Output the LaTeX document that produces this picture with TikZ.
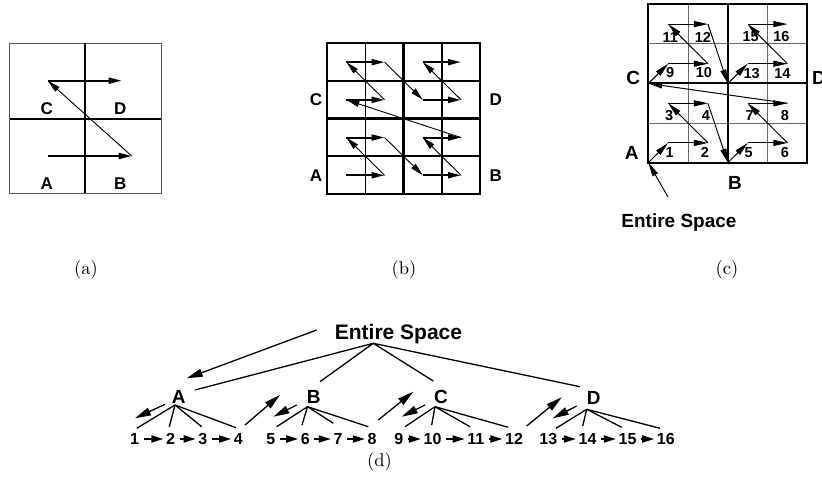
\documentclass[tikz,border=0pt]{standalone}
\usepackage{fontspec}
\newfontfamily\lsans{Liberation Sans}
\usetikzlibrary{arrows.meta}
\begin{document}
\begin{tikzpicture}[x=1pt,y=-1pt,
  lab/.style={font=\lsans\bfseries\fontsize{17}{17}\selectfont, inner sep=0pt},
  dlab/.style={font=\lsans\bfseries\fontsize{19}{19}\selectfont, inner sep=0pt},
  cnum/.style={font=\lsans\bfseries\fontsize{14.5}{14.5}\selectfont, inner sep=0pt},
  dnum/.style={font=\lsans\bfseries\fontsize{16}{16}\selectfont, inner sep=0pt},
  captxt/.style={font=\fontsize{10}{12}\selectfont, inner sep=0pt, scale=1.85},
  thk/.style={line width=2pt, -{Triangle[length=13pt,width=6pt]}},
  thn/.style={line width=0.9pt, -{Triangle[length=13pt,width=6pt]}},
  cthin/.style={line width=1pt, -{Triangle[length=14pt,width=6pt]}},
  tline/.style={line width=1.3pt},
  tarr/.style={line width=1.3pt, -{Triangle[length=16pt,width=8pt]}},
  rowarr/.style={line width=1.8pt, -{Triangle[length=12pt,width=7pt]}, shorten <=4.5pt, shorten >=2.5pt}]
\useasboundingbox (0,0) rectangle (822,486);

% ---------- (a) one level of Z-order ----------
\draw[black!65, line width=0.8pt] (9.5,43.3) rectangle (161,193.5);
\draw[line width=2pt] (85.3,43.3) -- (85.3,193.5) (9.5,119) -- (161,119);
\node[lab] (aLC) at (46.7,109) {C};
\node[lab] (aLD) at (120.3,109) {D};
\node[lab] (aLA) at (46.7,184) {A};
\node[lab] (aLB) at (120.3,184) {B};
\coordinate (aA) at (47.7,156);
\coordinate (aB) at (131.7,156);
\coordinate (aC) at (47.7,80.7);
\coordinate (aD) at (121.7,80.7);
\draw[thk] (aA) -- (aB);
\draw[thn] (aB) -- (aC);
\draw[thk] (aC) -- (aD);
\node[captxt] (capa) at (86,270) {(a)};

% ---------- (b) two levels, traversal through cell centres ----------
\foreach \x in {365.5,441.9} \draw[line width=1.8pt] (\x,43.3) -- (\x,194.1);
\foreach \y in {81,156.4} \draw[line width=1.8pt] (327.3,\y) -- (480.1,\y);
\draw[line width=2.6pt] (403.7,43.3) -- (403.7,194.1) (327.3,118.7) -- (480.1,118.7);
\draw[line width=2pt] (327.3,43.3) rectangle (480.1,194.1);
\foreach \i in {0,...,3} \foreach \j in {0,...,3}
  \coordinate (b\i\j) at ({327.3+38.2*(\i+0.5)},{194.1-37.7*(\j+0.5)});
\foreach \p/\q/\s in {00/10/thk, 10/01/thn, 01/11/thk, 11/20/thn,
                      20/30/thk, 30/21/thn, 21/31/thk, 31/02/thn,
                      02/12/thk, 12/03/thn, 03/13/thk, 13/22/thn,
                      22/32/thk, 32/23/thn, 23/33/thk}
  \draw[\s] (b\p) -- (b\q);
\node[lab] (bLC) at (316,100) {C};
\node[lab] (bLD) at (495.7,100) {D};
\node[lab] (bLA) at (316,175.7) {A};
\node[lab] (bLB) at (495.7,175.7) {B};
\node[captxt] (capb) at (404,270) {(b)};

% ---------- (c) numbered traversal with quadrant corners ----------
\foreach \x in {688,767.5} \draw[black!60, line width=0.9pt] (\x,4.3) -- (\x,162.7);
\foreach \y in {43.9,123.1} \draw[black!60, line width=0.9pt] (648.3,\y) -- (807.3,\y);
\draw[line width=2pt] (727.8,4.3) -- (727.8,162.7) (648.3,83.5) -- (807.3,83.5);
\draw[line width=2pt] (648.3,4.3) rectangle (807.3,162.7);
\foreach \i in {0,...,3} \foreach \j in {0,...,3}
  \coordinate (c\i\j) at ({668.2+39.75*\i},{142.9-39.6*\j});
\coordinate (cA) at (648.3,162.7);
\coordinate (cB) at (727.8,162.7);
\coordinate (cC) at (648.3,83.5);
\coordinate (cD) at (727.8,83.5);
\foreach \c/\num/\dx/\dy in {00/1/1.5/10, 10/2/-3/10, 01/3/1/12, 11/4/-2/12,
                             20/5/1/10, 30/6/-2.5/10, 21/7/2/12, 31/8/-2.5/12,
                             02/9/2/9, 12/10/-4/9, 03/11/2/13, 13/12/-5/13,
                             22/13/4/9.5, 32/14/-5/9.5, 23/15/3/12.5, 33/16/-6/12.5}
  \path (c\c) ++(\dx,\dy) node[cnum] (cn\num) {\num};
\foreach \p/\q in {cA/c00, c00/c10, c10/c01, c01/c11, c11/cB,
                   cB/c20, c20/c30, c30/c21, c21/c31, c31/cC,
                   cC/c02, c02/c12, c12/c03, c03/c13, c13/cD,
                   cD/c22, c22/c32, c32/c23, c23/c33}
  \draw[cthin] (\p) -- (\q);
\node[dlab] (cLA) at (631.7,153.3) {A};
\node[dlab] (cLB) at (735,182.7) {B};
\node[dlab] (cLC) at (633.3,78.3) {C};
\node[dlab] (cLD) at (819,78) {D};
\node[font=\lsans\bfseries\fontsize{19}{19}\selectfont, inner sep=0pt, anchor=base] (cES) at (679,228) {Entire Space};
\coordinate (cESt) at (668,197);
\draw[line width=1pt, -{Triangle[length=14pt,width=6pt]}] (cESt) -- (cA);
\node[captxt] (capc) at (727,270) {(c)};

% ---------- (d) the corresponding tree ----------
\node[font=\lsans\bfseries\fontsize{21}{21}\selectfont, inner sep=0pt, anchor=base] (dES) at (398.5,339) {Entire Space};
\node[font=\lsans\bfseries\fontsize{19}{19}\selectfont, inner sep=0pt] (dA) at (178.8,397) {A};
\node[font=\lsans\bfseries\fontsize{19}{19}\selectfont, inner sep=0pt] (dB) at (313.7,397) {B};
\node[font=\lsans\bfseries\fontsize{19}{19}\selectfont, inner sep=0pt] (dC) at (441,397) {C};
\node[font=\lsans\bfseries\fontsize{19}{19}\selectfont, inner sep=0pt] (dD) at (593.7,398) {D};
\foreach \num/\x in {1/134.5, 2/170.5, 3/202.8, 4/238.3, 5/270.8, 6/305.3, 7/338, 8/372,
                     9/398.7, 10/432.5, 11/475.8, 12/514, 13/548.3, 14/587.5, 15/627.5, 16/665.8}
  \node[dnum] (n\num) at (\x,439) {\num};

% edges from the root
\coordinate (esApex) at (373.3,343.3);
\coordinate (toA) at (195,390);
\coordinate (toB) at (320,381.7);
\coordinate (toC) at (433.3,381);
\coordinate (toD) at (580,386.7);
\draw[tline] (esApex) -- (toA) (esApex) -- (toB) (esApex) -- (toC) (esApex) -- (toD);

% edges from the quadrants to their cells
\coordinate (apA) at (175,405);
\coordinate (apB) at (307.5,406.7);
\coordinate (apC) at (435,406.7);
\coordinate (apD) at (586.7,409.3);
\foreach \ap/\x/\y in {apA/136.7/428.3, apA/169.3/426.7, apA/201.7/426.7, apA/236/427.7,
                       apB/276.7/426.7, apB/302/425, apB/333.3/423.3, apB/368.3/426.7,
                       apC/405/426.7, apC/431.7/425, apC/470/426.7, apC/508.3/427.3,
                       apD/556/428.3, apD/582.7/426, apD/621.7/427.3, apD/660/428.3}
  \draw[tline] (\ap) -- (\x,\y);

% traversal arrows
\coordinate (arES) at (316.7,330);
\coordinate (arA) at (186.7,378.3);
\draw[tarr] (arES) -- (arA);
\foreach \sx/\sy/\ex/\ey in {165/404.3/135/418.3, 245/425/280/395,
                             296.7/405/273.3/416.7, 378.3/420/413.3/391.7,
                             425/405/401.7/416.7, 526.7/426/561.7/397.3,
                             576.7/406/552.7/418.3}
  \draw[tarr] (\sx,\sy) -- (\ex,\ey);
\foreach \p/\q in {1/2, 2/3, 3/4, 5/6, 6/7, 7/8, 9/10, 10/11, 11/12, 13/14, 14/15, 15/16}
  \draw[rowarr] (n\p.east) -- (n\q.west);
\node[captxt] (capd) at (379.5,462) {(d)};
\end{tikzpicture}
\end{document}
